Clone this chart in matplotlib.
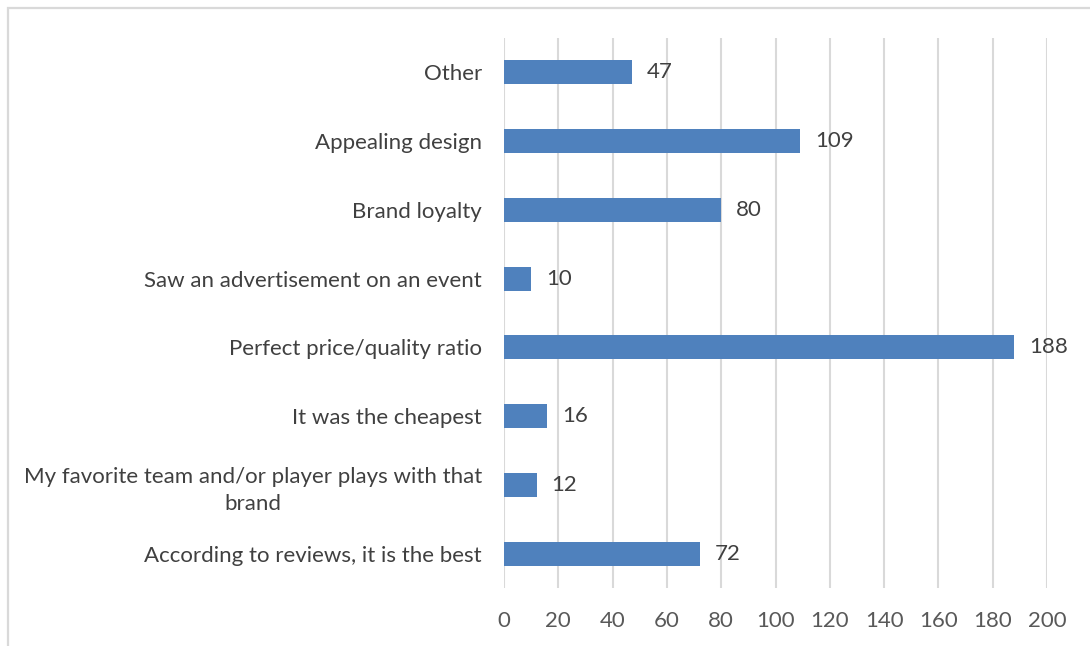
import matplotlib
matplotlib.use('Agg')
import matplotlib.pyplot as plt
from matplotlib.patches import Rectangle

plt.rcParams['font.family'] = ['Lato', 'DejaVu Sans']

reasons = [
    'According to reviews, it is the best',
    'My favorite team and/or player plays with that\nbrand',
    'It was the cheapest',
    'Perfect price/quality ratio',
    'Saw an advertisement on an event',
    'Brand loyalty',
    'Appealing design',
    'Other',
]
counts = [72, 12, 16, 188, 10, 80, 109, 47]
xticks = list(range(0, 201, 20))

bar_color = '#4F81BD'
grid_color = '#D9D9D9'
fs = 16

fig = plt.figure(figsize=(10.9, 6.46), dpi=100)
ax = fig.add_axes([0.4624, 0.0892, 0.4982, 0.8526])

# chart border (top and left edges show, rest runs off the page)
fig.patches.append(Rectangle((8 / 1090, -0.1), 1.2, 1 - 8 / 646 + 0.1,
                             transform=fig.transFigure, fill=False,
                             edgecolor=grid_color, linewidth=1.6))

ypos = list(range(len(reasons)))
ax.barh(ypos, counts, height=0.35, color=bar_color, zorder=3)

for y, v in zip(ypos, counts):
    ax.text(v + 5.5, y, str(v), va='center', ha='left', fontsize=fs,
            color='#404040', zorder=4)

ax.set_xlim(0, 200)
ax.set_ylim(-0.5, len(reasons) - 0.5)
ax.set_xticks(xticks)
ax.set_yticks(ypos)
ax.set_yticklabels(reasons, multialignment='center', linespacing=1.45)
ax.tick_params(axis='y', length=0, pad=16, labelsize=fs, labelcolor='#404040')
ax.tick_params(axis='x', length=0, pad=16, labelsize=fs, labelcolor='#595959')

ax.grid(axis='x', color=grid_color, linewidth=1.5, zorder=0)
for s in ax.spines.values():
    s.set_visible(False)

fig.savefig('out.png', dpi=100)
